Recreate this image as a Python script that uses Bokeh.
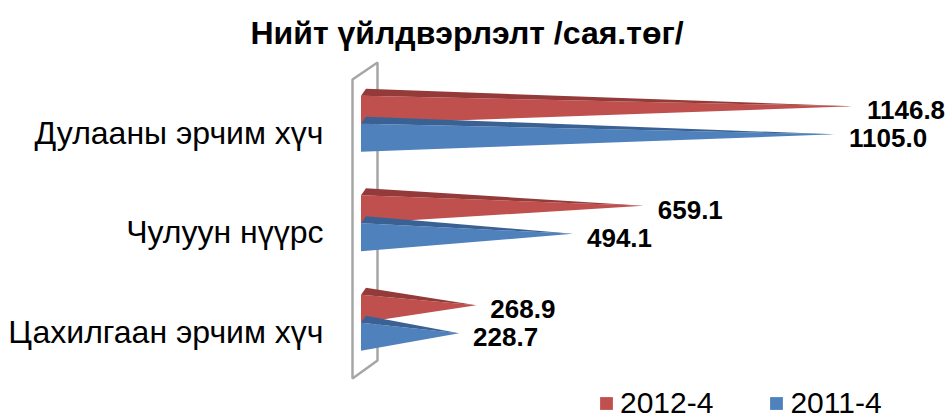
from bokeh.plotting import figure
from bokeh.models import Range1d, FixedTicker, ColumnDataSource, Legend, LegendItem
from bokeh.embed import file_html
from bokeh.resources import INLINE
from bokeh.core.properties import value

# ---- data ----
categories = ["Цахилгаан эрчим хүч", "Чулуун нүүрс", "Дулааны эрчим хүч"]
series_names = ["2012-4", "2011-4"]
values_2012 = [268.9, 659.1, 1146.8]
values_2011 = [228.7, 494.1, 1105.0]
title_text = "Нийт үйлдвэрлэлт /сая.төг/"

# ---- layout constants (pixels) ----
W, H = 948, 419
LEFT = 344            # frame left edge
TOP = 58              # frame top edge
ZERO_PX = 360.5       # screen x of value 0
PX_PER_VAL = 0.429
CAT0_PX = 331         # screen y of first category center
PX_PER_CAT = 99.5

DV = 1.0 / PX_PER_VAL   # value units per pixel
DI = 1.0 / PX_PER_CAT   # category units per pixel

x_start = (LEFT - ZERO_PX) * DV
x_end = (W - ZERO_PX) * DV
y_start = (CAT0_PX - H) * DI
y_end = (CAT0_PX - TOP) * DI

def vx(px):  # screen x -> data
    return (px - ZERO_PX) * DV

def vy(py):  # screen y -> data
    return (CAT0_PX - py) * DI

p = figure(width=W, height=H, output_backend="svg", toolbar_location=None,
           x_range=Range1d(x_start, x_end), y_range=Range1d(y_start, y_end),
           min_border_left=LEFT, min_border_right=0, min_border_top=TOP, min_border_bottom=0,
           x_axis_location=None, tools="")
p.outline_line_color = None
p.xgrid.visible = False
p.ygrid.visible = False
p.background_fill_color = "white"
p.border_fill_color = "white"

# ---- title ----
p.title.text = title_text
p.title.align = "left"
p.title.offset = 250 - LEFT
p.title.standoff = 16
p.title.text_font = "Liberation Sans"
p.title.text_font_style = "bold"
p.title.text_font_size = "32px"
p.title.text_color = "#000000"

# ---- category axis ----
ax = p.yaxis[0]
ax.ticker = FixedTicker(ticks=list(range(len(categories))))
ax.major_label_overrides = {i: c for i, c in enumerate(categories)}
ax.axis_line_color = None
ax.major_tick_line_color = None
ax.minor_tick_line_color = None
ax.major_tick_out = 0
ax.major_tick_in = 0
ax.major_label_standoff = LEFT - 323
ax.major_label_text_font = "Liberation Sans"
ax.major_label_text_font_size = "32px"
ax.major_label_text_color = "#000000"

# ---- 3D wall ----
wall_x = [vx(352), vx(377), vx(377), vx(352)]
wall_y = [vy(79), vy(62), vy(360), vy(378)]
p.patch(wall_x, wall_y, fill_color="white", line_color="#A6A6A6", line_width=2.5)

# ---- pyramid bars ----
BAR_PX = 28
SPLIT_PX = 8.7
APEX_UP = 3.5
DEPTH_X, DEPTH_Y = 5, 7

def bar_geom(vals, upper):
    fx, fy, tx, ty, lx, ly, lt = [], [], [], [], [], [], []
    for i, v in enumerate(vals):
        split = i + SPLIT_PX * DI
        if upper:
            top, bot = split + BAR_PX * DI, split
        else:
            top, bot = split, split - BAR_PX * DI
        apex = (top + bot) / 2 + APEX_UP * DI
        fx.append([0, 0, v]); fy.append([top, bot, apex])
        tx.append([0, DEPTH_X * DV, v]); ty.append([top, top + DEPTH_Y * DI, apex])
        lx.append(v); ly.append(apex); lt.append(f"{v:.1f}")
    return (ColumnDataSource(dict(xs=fx, ys=fy)), ColumnDataSource(dict(xs=tx, ys=ty)),
            ColumnDataSource(dict(x=lx, y=ly, t=lt)))

renderers = []
for vals, upper, front_c, top_c in [(values_2012, True, "#C0504D", "#943B39"),
                                     (values_2011, False, "#4F81BD", "#3A6194")]:
    fsrc, tsrc, lsrc = bar_geom(vals, upper)
    r = p.patches("xs", "ys", source=fsrc, fill_color=front_c, line_color=None)
    p.patches("xs", "ys", source=tsrc, fill_color=top_c, line_color=None)
    p.text("x", "y", text="t", source=lsrc, x_offset=14, y_offset=4,
           text_font=value("Liberation Sans"), text_font_style="bold",
           text_font_size="26px", text_baseline="middle", text_align="left",
           text_color="#000000")
    renderers.append(r)

# ---- legend ----
legend = Legend(items=[LegendItem(label=series_names[0], renderers=[renderers[0]]),
                       LegendItem(label=series_names[1], renderers=[renderers[1]])],
                orientation="horizontal", location=(601 - LEFT - 3, -1),
                glyph_width=16, glyph_height=16, label_standoff=6, spacing=55,
                padding=0, margin=0, border_line_color=None, background_fill_alpha=0,
                label_text_font="Liberation Sans", label_text_font_size="30px",
                label_text_color="#000000")
p.add_layout(legend)

open("out.html", "w").write(file_html(p, INLINE))
